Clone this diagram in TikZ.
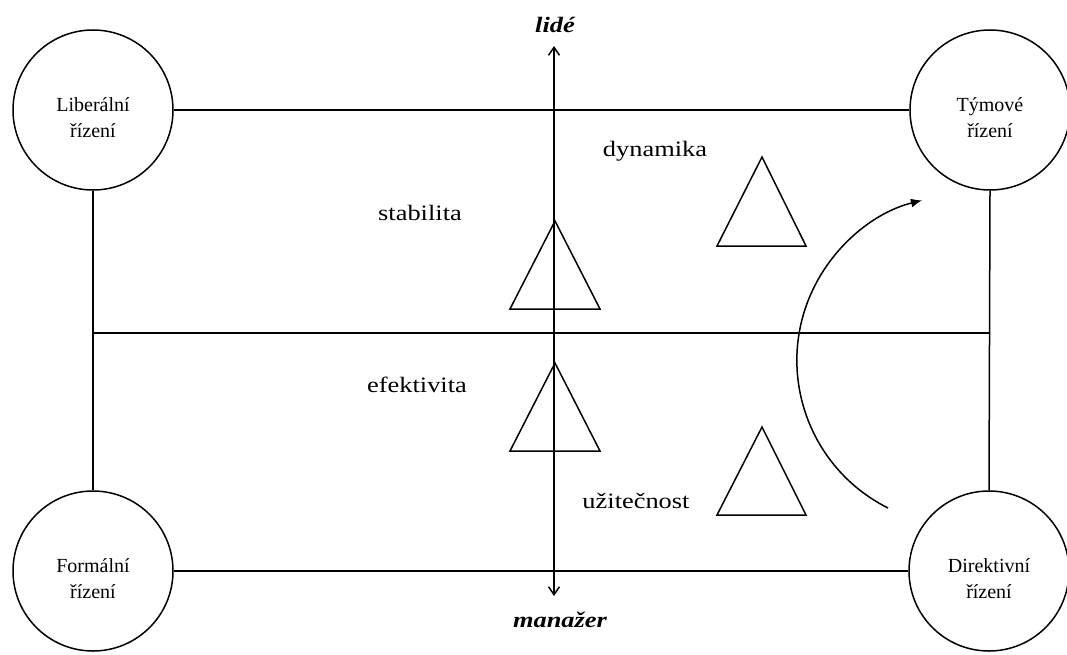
\documentclass[tikz,border=0pt]{standalone}
\usepackage{fontspec}
\setmainfont{Liberation Serif}
\newfontfamily\labfont{Liberation Serif}[FakeStretch=1.2]
\usetikzlibrary{arrows.meta}
\begin{document}
\begin{tikzpicture}[x=1pt,y=-1pt,
  line width=1.5pt,
  circ/.style={draw, circle, minimum size=160pt, inner sep=0pt},
  ctext/.style={align=center, font=\fontsize{20}{26}\selectfont},
  lab/.style={anchor=base, inner sep=0pt, font=\labfont\fontsize{22}{26}\selectfont},
  axlab/.style={anchor=base, inner sep=0pt, font=\labfont\bfseries\itshape\fontsize{22}{26}\selectfont},
  tri/.style={line width=1.5pt, line join=miter}
]
\useasboundingbox (0,0) rectangle (1067,655);

% circles
\node[circ] (L) at (93,110) {};
\node[circ] (T) at (990,110) {};
\node[circ] (F) at (93,571) {};
\node[circ] (D) at (989,571) {};
\node[ctext] (Lt) at ([yshift=-8pt]L.center) {Liberální\\řízení};
\node[ctext] (Tt) at ([yshift=-8pt]T.center) {Týmové\\řízení};
\node[ctext] (Ft) at ([yshift=-8pt]F.center) {Formální\\řízení};
\node[ctext] (Dt) at ([yshift=-8pt]D.center) {Direktivní\\řízení};

% frame
\draw (L.east) -- (T.west);
\draw (F.east) -- (D.west);
\draw (L.south) -- (F.north);
\draw (T.south) -- (D.north);
\coordinate (ml) at (93,333);
\coordinate (mr) at (990,333);
\draw (ml) -- (mr);

% axis
\coordinate (axtop) at (554,46);
\coordinate (axbot) at (554,596);
\draw[{Straight Barb[length=8pt,width=11pt]}-{Straight Barb[length=8pt,width=11pt]}] (axtop) -- (axbot);
\node[axlab] (lide) at (555,33) {lidé};
\node[axlab] (manazer) at (560,627) {manažer};

% triangles
\draw[tri] (555,221) -- (600,309) -- (510,309) -- cycle;
\draw[tri] (555,363) -- (600,451) -- (510,451) -- cycle;
\draw[tri] (762,157) -- (806,246) -- (717,246) -- cycle;
\draw[tri] (762,427) -- (806,515) -- (717,515) -- cycle;

% labels
\node[lab] (stab) at (420,220) {stabilita};
\node[lab] (efek) at (417,392) {efektivita};
\node[lab] (dyn) at (655,157) {dynamika};
\node[lab] (uzit) at (636,508) {užitečnost};

% curved arrow
\coordinate (arcstart) at (888,508);
\draw[-{Latex[length=11pt,width=9pt]}] (arcstart) arc[start angle=243.4, end angle=104, radius=165pt];
\end{tikzpicture}
\end{document}
